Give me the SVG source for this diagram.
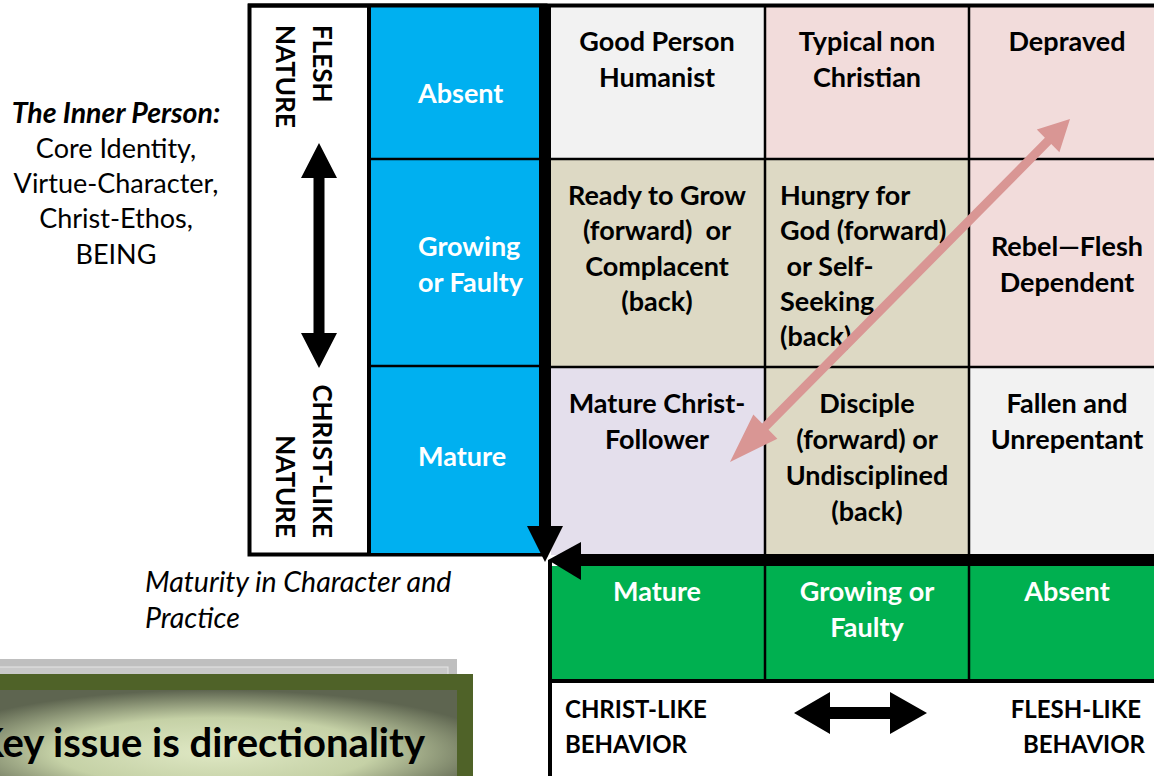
<svg xmlns="http://www.w3.org/2000/svg" width="1154" height="776" viewBox="0 0 1154 776">
<defs>
<style>
.b{font-family:Lato,"Liberation Sans",sans-serif;font-weight:bold;font-size:27px;fill:#000}
.w{font-family:Lato,"Liberation Sans",sans-serif;font-weight:bold;font-size:27px;fill:#fff}
.c{text-anchor:middle}
.side{font-family:Lato,"Liberation Sans",sans-serif;font-weight:bold;font-size:26px;fill:#000}
.reg{font-family:Lato,"Liberation Sans",sans-serif;font-size:27px;fill:#000}
.it{font-family:Lato,"Liberation Sans",sans-serif;font-style:italic;font-size:28.5px;fill:#000}
.beh{font-family:Lato,"Liberation Sans",sans-serif;font-weight:bold;font-size:24px;fill:#000}
.grid{stroke:#000;stroke-width:2.5;fill:none}
</style>
<radialGradient id="keyg" cx="48%" cy="62%" r="62%">
<stop offset="0" stop-color="#dfe8c4"/>
<stop offset="0.55" stop-color="#c5d1a6"/>
<stop offset="1" stop-color="#5e6550"/>
</radialGradient>
</defs>
<rect x="0" y="0" width="1154" height="776" fill="#fff"/>

<g id="left-labels">
<text class="reg c" x="116" y="123" style="font-weight:bold;font-style:italic;font-size:28.5px">The Inner Person:</text>
<text class="reg c" x="116" y="158">Core Identity,</text>
<text class="reg c" x="116" y="193">Virtue-Character,</text>
<text class="reg c" x="116" y="228">Christ-Ethos,</text>
<text class="reg c" x="116" y="264">BEING</text>
</g>

<g id="maturity-label">
<text class="it" x="145" y="592">Maturity in Character and</text>
<text class="it" x="145" y="628">Practice</text>
</g>

<g id="key-issue">
<rect x="-10" y="659" width="467" height="130" fill="#bfbfbf"/>
<rect x="-10" y="667" width="458" height="120" fill="#c9c9c9" stroke="#e6e6e6" stroke-width="1"/>
<rect x="-10" y="674" width="483" height="120" fill="#4f6228"/>
<rect x="-10" y="690" width="467" height="100" fill="url(#keyg)"/>
<text x="425" y="757" text-anchor="end" style="font-family:Lato,'Liberation Sans',sans-serif;font-weight:bold;font-size:40px;fill:#000">Key issue is directionality</text>
</g>

<g id="nature-axis">
<rect x="249.5" y="5.5" width="296" height="549" fill="#fff" stroke="#000" stroke-width="4"/>
<text class="side" transform="translate(313,25) rotate(90)">FLESH</text>
<text class="side" transform="translate(276,25) rotate(90)">NATURE</text>
<text class="side" transform="translate(313,538) rotate(90)" text-anchor="end">CHRIST-LIKE</text>
<text class="side" transform="translate(276,538) rotate(90)" text-anchor="end">NATURE</text>
</g>

<g id="being-column">
<rect x="371" y="7" width="170" height="546" fill="#00b0f0"/>
<line x1="369" y1="7" x2="369" y2="553" stroke="#000" stroke-width="4"/>
<line x1="371" y1="159" x2="541" y2="159" class="grid"/>
<line x1="371" y1="366" x2="541" y2="366" class="grid"/>
<text class="w" x="418" y="103">Absent</text>
<text class="w" x="418" y="256">Growing</text>
<text class="w" x="418" y="292">or Faulty</text>
<text class="w" x="418" y="466">Mature</text>
</g>

<g id="grid">
<rect x="551" y="7" width="214" height="152" fill="#f2f2f2"/>
<rect x="765" y="7" width="204" height="152" fill="#f2dcdb"/>
<rect x="969" y="7" width="190" height="152" fill="#f2dcdb"/>
<rect x="551" y="159" width="214" height="208" fill="#ddd9c4"/>
<rect x="765" y="159" width="204" height="208" fill="#ddd9c4"/>
<rect x="969" y="159" width="190" height="208" fill="#f2dcdb"/>
<rect x="551" y="367" width="214" height="188" fill="#e4dfec"/>
<rect x="765" y="367" width="204" height="188" fill="#ddd9c4"/>
<rect x="969" y="367" width="190" height="188" fill="#f2f2f2"/>
<line x1="551" y1="159" x2="1154" y2="159" class="grid"/>
<line x1="551" y1="367" x2="1154" y2="367" class="grid"/>
<line x1="765" y1="7" x2="765" y2="555" class="grid"/>
<line x1="969" y1="7" x2="969" y2="555" class="grid"/>
<line x1="248" y1="5.5" x2="1154" y2="5.5" stroke="#000" stroke-width="4"/>
</g>

<g id="cell-good-person"><text class="b c" x="657" y="51">Good Person</text><text class="b c" x="657" y="87">Humanist</text></g>
<g id="cell-typical"><text class="b c" x="867" y="51">Typical non</text><text class="b c" x="867" y="87">Christian</text></g>
<g id="cell-depraved"><text class="b c" x="1067" y="51">Depraved</text></g>
<g id="cell-ready"><text class="b c" x="657" y="205">Ready to Grow</text><text class="b c" x="657" y="240" xml:space="preserve">(forward)  or</text><text class="b c" x="657" y="276">Complacent</text><text class="b c" x="657" y="311">(back)</text></g>
<g id="cell-hungry"><text class="b" x="780" y="205">Hungry for</text><text class="b" x="780" y="240">God (forward)</text><text class="b" x="780" y="276" xml:space="preserve"> or Self-</text><text class="b" x="780" y="311">Seeking</text><text class="b" x="780" y="346">(back)</text></g>
<g id="cell-rebel"><text class="b c" x="1067" y="256">Rebel—Flesh</text><text class="b c" x="1067" y="292">Dependent</text></g>
<g id="cell-mature"><text class="b c" x="657" y="413">Mature Christ-</text><text class="b c" x="657" y="449">Follower</text></g>
<g id="cell-disciple"><text class="b c" x="867" y="413">Disciple</text><text class="b c" x="867" y="449">(forward) or</text><text class="b c" x="867" y="485">Undisciplined</text><text class="b c" x="867" y="521">(back)</text></g>
<g id="cell-fallen"><text class="b c" x="1067" y="413">Fallen and</text><text class="b c" x="1067" y="449">Unrepentant</text></g>

<g id="doing-row">
<rect x="552" y="566" width="602" height="113" fill="#00b050"/>
<line x1="765" y1="566" x2="765" y2="679" class="grid"/>
<line x1="969" y1="566" x2="969" y2="679" class="grid"/>
<text class="w c" x="657" y="601">Mature</text>
<text class="w c" x="867" y="601">Growing or</text>
<text class="w c" x="867" y="637">Faulty</text>
<text class="w c" x="1067" y="601">Absent</text>
</g>

<g id="behavior-axis">
<line x1="548" y1="681" x2="1154" y2="681" stroke="#000" stroke-width="4"/>
<line x1="550" y1="560" x2="550" y2="776" stroke="#000" stroke-width="4"/>
<text class="beh" x="565" y="718">CHRIST-LIKE</text>
<text class="beh" x="565" y="753">BEHAVIOR</text>
<text class="beh" x="1141" y="718" text-anchor="end">FLESH-LIKE</text>
<text class="beh" x="1145" y="753" text-anchor="end">BEHAVIOR</text>
</g>

<g id="connectors">
<rect x="539" y="5" width="12" height="522" fill="#000"/>
<polygon points="527,526 563,526 545,562" fill="#000"/>
<rect x="580" y="554" width="574" height="12" fill="#000"/>
<polygon points="581,542 581,580 548,560" fill="#000"/>
<polygon points="313.5,178 313.5,333 301,333 319,368 337,333 324.5,333 324.5,178 337,178 319,143 301,178" fill="#000"/>
<polygon points="830,707 890,707 890,692 927,713 890,734 890,719 830,719 830,734 794,713 830,692" fill="#000"/>
<polygon points="1070,119 1059.39,152.23 1051.26,144.10 768.54,429.82 777.38,438.66 730,462 753.34,414.62 762.18,423.46 1044.90,137.74 1036.77,129.61" fill="#d99694"/>
</g>
</svg>
